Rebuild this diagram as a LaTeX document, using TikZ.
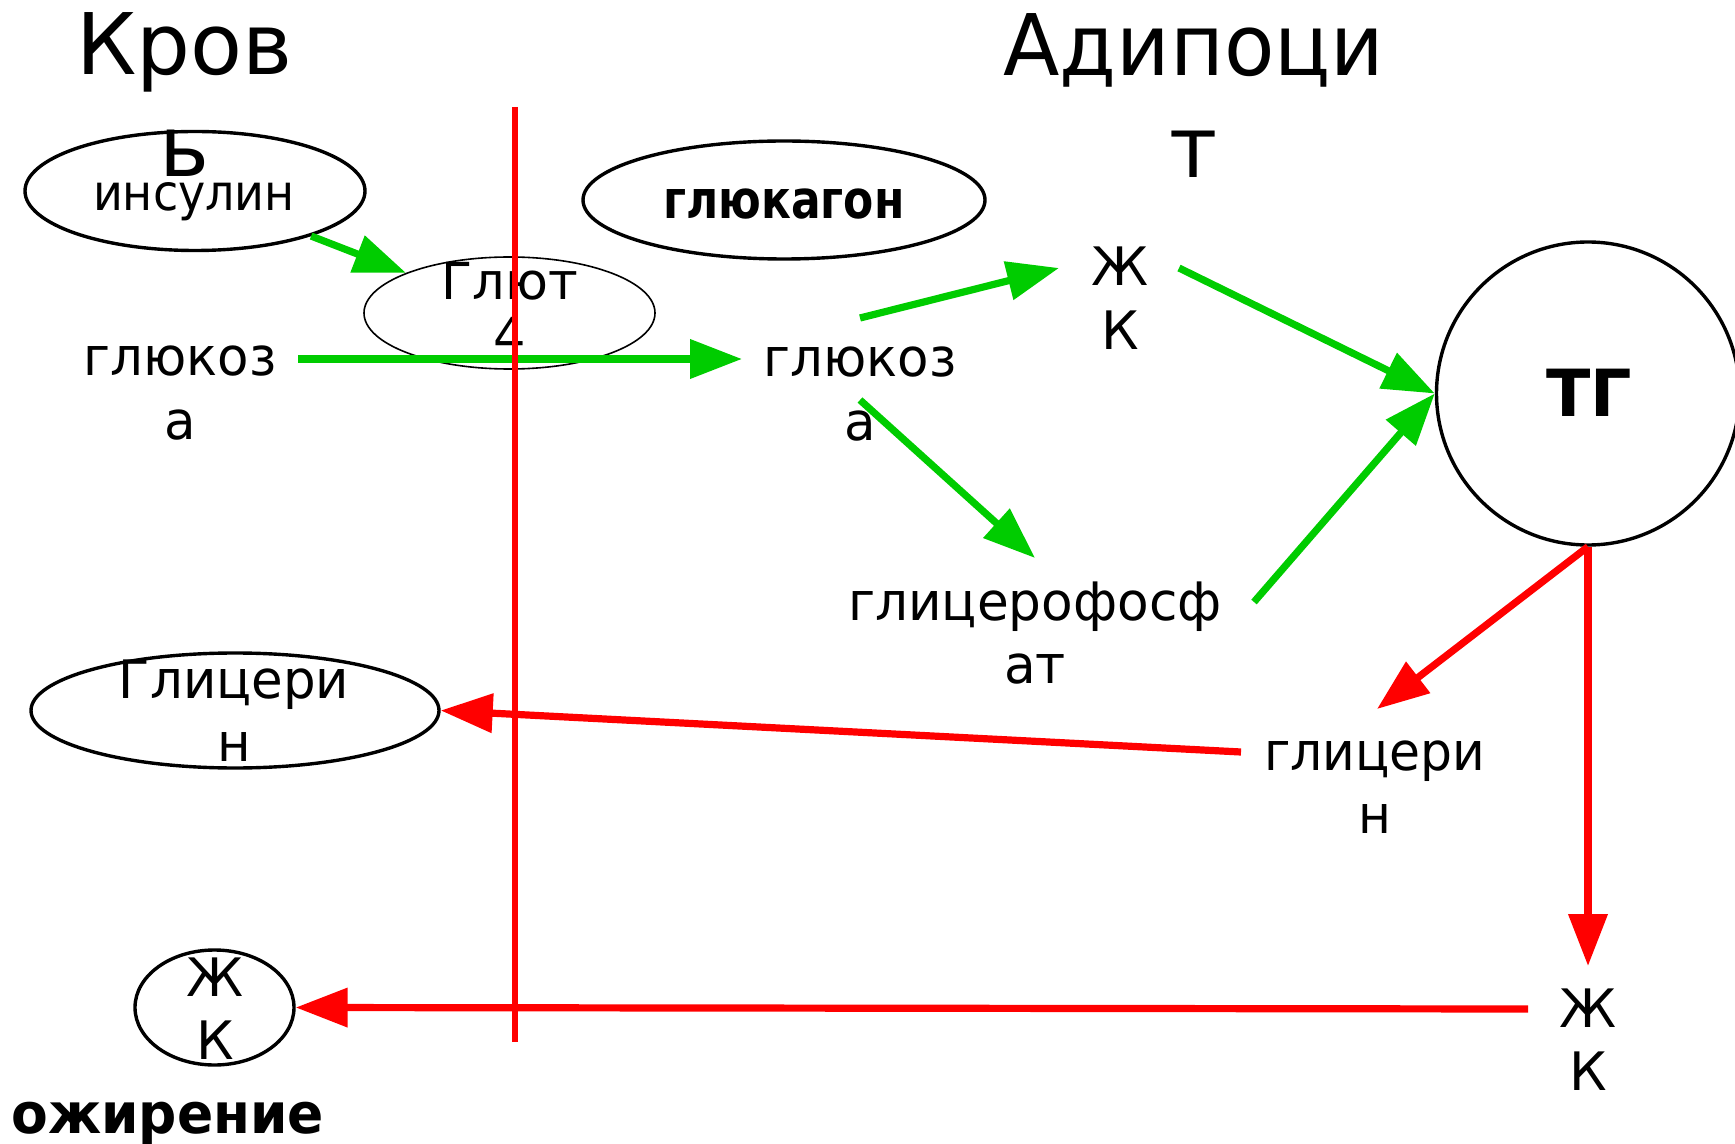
\documentclass[tikz,border=0pt]{standalone}
\usepackage{fontspec}
\usepackage{graphicx}
\setmainfont{DejaVu Sans}
\usetikzlibrary{arrows.meta,shapes.geometric}
\definecolor{grn}{RGB}{0,204,0}
\newcommand{\twol}[2][0.97]{\scalebox{#1}[1]{\begin{tabular}[t]{@{}c@{}}#2\end{tabular}}}
\begin{document}
\begin{tikzpicture}[x=0.5pt,y=-0.5pt,
 txt/.style={inner sep=0pt, anchor=base, font=\fontsize{26.5}{31.75}\selectfont},
 ttl/.style={inner sep=0pt, anchor=base, font=\fontsize{42.5}{51}\selectfont},
 oval/.style={draw, ellipse, line width=1.7pt, inner sep=0pt},
 ga/.style={draw=grn, line width=3.6pt, -{Triangle[length=26pt,width=19pt]}},
 ra/.style={draw=red, line width=3.6pt, -{Triangle[length=26pt,width=19pt]}},
]
\useasboundingbox (0,0) rectangle (1735,1144);
% shapes
\node[oval, minimum width=170pt, minimum height=59.5pt] (ins) at (195,191) {};
\node[oval, line width=0.8pt, minimum width=145.5pt, minimum height=56pt] (glut) at (509.5,313) {};
\node[oval, minimum width=201pt, minimum height=59pt] (glcg) at (784,200) {};
\node[oval, minimum width=204pt, minimum height=57.5pt] (glic) at (235,710.5) {};
\node[oval, minimum width=79.5pt, minimum height=57.5pt] (zhk) at (214.5,1007.5) {};
\node[draw, circle, line width=1.7pt, minimum size=151.5pt, inner sep=0pt] (tg) at (1588,393.5) {};
% texts
\node[ttl] (krov) at (184.5,75) {\twol[1]{Кров\\ь}};
\node[ttl] (adip) at (1194,76) {\twol[0.97]{Адипоци\\т}};
\node[txt, font=\fontsize{25}{30}\selectfont] (insT) at (194,211) {\twol[0.92]{инсулин}};
\node[txt, font=\fontsize{25.5}{27.5}\selectfont] (glutT) at (510,300) {\twol[1]{Глют\\4}};
\node[txt, font=\bfseries\fontsize{26.5}{31.75}\selectfont] (glcgT) at (784,219) {\twol[0.83]{глюкагон}};
\node[txt] (glu1) at (180,376) {\twol{глюкоз\\а}};
\node[txt] (glu2) at (860,377) {\twol{глюкоз\\а}};
\node[txt] (zk1) at (1120,286) {\twol[1]{Ж\\К}};
\node[txt, font=\bfseries\fontsize{32.5}{39}\selectfont] (tgT) at (1589,417) {ТГ};
\node[txt] (gph) at (1035,620) {\twol[0.975]{глицерофосф\\ат}};
\node[txt] (glicT) at (234,698) {\twol{Глицери\\н}};
\node[txt] (glic2) at (1375,770) {\twol[0.95]{глицери\\н}};
\node[txt] (zkT) at (215,996) {\twol[1]{Ж\\К}};
\node[txt] (zk2) at (1588,1027) {\twol[1]{Ж\\К}};
\node[txt, anchor=base west, font=\bfseries\fontsize{28}{33}\selectfont] (ozh) at (11,1133) {\twol[0.955]{ожирение}};
% free ends
\coordinate (a2s) at (298,359); \coordinate (a2e) at (742,359);
\coordinate (a3s) at (860,318); \coordinate (a3e) at (1059,268);
\coordinate (a4s) at (860,400); \coordinate (a4e) at (1035,558);
\coordinate (a5s) at (1179,268);
\coordinate (a6s) at (1254,602);
\coordinate (r1e) at (1377,709);
\coordinate (r2e) at (1588,966);
\coordinate (r3s) at (1241,752);
\coordinate (r4s) at (1528,1009);
% connectors
\draw[ga] (ins) -- (glut);
\draw[ga] (a2s) -- (a2e);
\draw[ga] (a3s) -- (a3e);
\draw[ga] (a4s) -- (a4e);
\draw[ga] (a5s) -- (tg.west);
\draw[ga] (a6s) -- (tg.west);
\draw[ra] (tg.south) -- (r1e);
\draw[ra] (tg.south) -- (r2e);
\draw[ra] (r3s) -- (glic.east);
\draw[ra] (r4s) -- (zhk.east);
% membrane
\draw[red, line width=2.6pt] (515,107) -- (515,1042);
\end{tikzpicture}
\end{document}
